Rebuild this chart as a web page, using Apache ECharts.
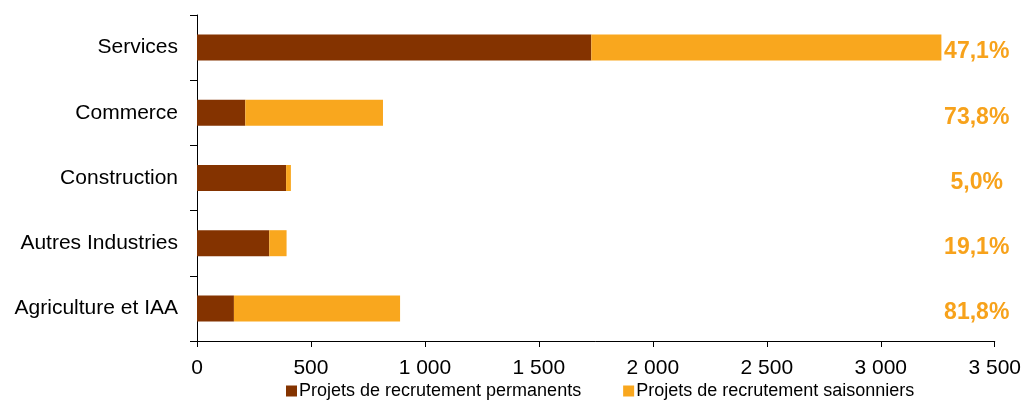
<!DOCTYPE html>
<html>
<head>
<meta charset="utf-8">
<script src="https://cdn.jsdelivr.net/npm/echarts@6/dist/echarts.min.js"></script>
<style>html,body{margin:0;padding:0;background:#fff;}#c{width:1024px;height:405px;}</style>
</head>
<body>
<div id="c"></div>
<script>
var categories = ['Services', 'Commerce', 'Construction', 'Autres Industries', 'Agriculture et IAA'];
var permanents = [1730, 212, 391, 317, 162];
var saisonniers = [1536, 604, 21, 76, 729];
var pctLabels = ['47,1%', '73,8%', '5,0%', '19,1%', '81,8%'];
var xTicks = { min: 0, max: 3500, interval: 500 };

var chart = echarts.init(document.getElementById('c'));
var F = '"Liberation Sans", Arial, sans-serif';
chart.setOption({
  animation: false,
  textStyle: { fontFamily: F },
  grid: { left: 197, right: 28, top: 15, bottom: 64 },
  legend: {
    bottom: 0, left: 281,
    itemWidth: 11, itemHeight: 11, itemGap: 42,
    icon: 'rect',
    textStyle: { fontFamily: F, fontSize: 18, color: '#000', padding: [0, 0, 0, -3] },
    data: ['Projets de recrutement permanents', 'Projets de recrutement saisonniers']
  },
  xAxis: {
    type: 'value', min: xTicks.min, max: xTicks.max, interval: xTicks.interval,
    axisLine: { show: true, lineStyle: { color: '#000', width: 1 } },
    axisTick: { show: true, length: 6, lineStyle: { color: '#000' } },
    splitLine: { show: false },
    axisLabel: {
      color: '#000', fontSize: 21, fontFamily: F, margin: 17,
      formatter: function (v) { return String(v).replace(/\B(?=(\d{3})+(?!\d))/g, ' '); }
    }
  },
  yAxis: [{
    type: 'category', data: categories, inverse: true,
    axisLine: { show: true, lineStyle: { color: '#000', width: 1 } },
    axisTick: { show: true, length: 7, lineStyle: { color: '#000' } },
    axisLabel: { color: '#000', fontSize: 21, fontFamily: F, margin: 19 }
  }, {
    type: 'category', data: pctLabels, inverse: true, position: 'right',
    axisLine: { show: false }, axisTick: { show: false },
    axisLabel: {
      color: '#F7A21B', fontSize: 23, fontWeight: 'bold', fontFamily: F,
      margin: -18, align: 'center', verticalAlign: 'top', lineHeight: 9
    }
  }],
  series: [{
    name: 'Projets de recrutement permanents', type: 'bar', stack: 's',
    data: permanents, barWidth: 26,
    itemStyle: { color: '#843300' }
  }, {
    name: 'Projets de recrutement saisonniers', type: 'bar', stack: 's',
    data: saisonniers, barWidth: 26,
    itemStyle: { color: '#F9A71E' }
  }]
});
</script>
</body>
</html>
